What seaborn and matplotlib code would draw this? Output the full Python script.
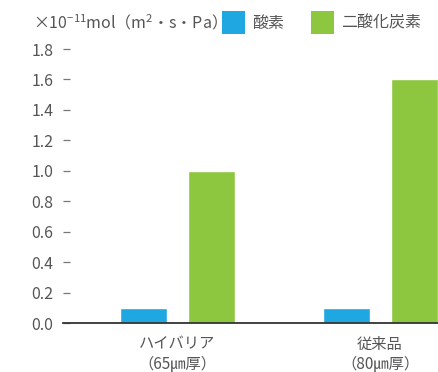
import matplotlib
matplotlib.use("Agg")
import matplotlib.pyplot as plt
from matplotlib.patches import Patch
import seaborn as sns
import pandas as pd

# Data
products = ["ハイバリア\n（65㎛厚）", "従来品\n（80㎛厚）"]
gases = ["酸素", "二酸化炭素"]
oxygen = [0.1, 0.1]
co2 = [1.0, 1.6]
y_ticks = [0.0, 0.2, 0.4, 0.6, 0.8, 1.0, 1.2, 1.4, 1.6, 1.8]
colors = ["#1ea7e1", "#8dc63f"]
unit_label = "×10$^{-11}$mol（m$^{2}$・s・Pa）"

df = pd.DataFrame({
    "product": products * 2,
    "gas": [gases[0]] * len(products) + [gases[1]] * len(products),
    "value": oxygen + co2,
})

sns.set_style("white")
plt.rcParams["font.family"] = ["Noto Sans CJK JP", "DejaVu Sans"]
plt.rcParams["mathtext.fontset"] = "custom"
plt.rcParams["mathtext.rm"] = "Noto Sans CJK JP"
plt.rcParams["mathtext.it"] = "Noto Sans CJK JP"
plt.rcParams["mathtext.bf"] = "Noto Sans CJK JP"
plt.rcParams["mathtext.default"] = "regular"
text_color = "#555555"

fig = plt.figure(figsize=(4.38, 3.72), dpi=100)
ax = fig.add_axes([63 / 438, 49 / 372, 375 / 438, 274 / 372])

sns.barplot(data=df, x="product", y="value", hue="gas", hue_order=gases,
            palette=colors, width=0.672, gap=0.31, legend=False, ax=ax,
            saturation=1)

ax.set_xlim(-0.565, 1.286)
ax.set_ylim(0, 1.8)
ax.set_yticks(y_ticks)
ax.set_yticklabels([f"{v:.1f}" for v in y_ticks])
ax.set_xlabel("")
ax.set_ylabel("")

for side in ["left", "top", "right"]:
    ax.spines[side].set_visible(False)
ax.spines["bottom"].set_color("#333333")
ax.spines["bottom"].set_linewidth(1.3)
ax.spines["bottom"].set_zorder(5)

ax.tick_params(axis="y", left=True, direction="in", length=5, width=0.9,
               color="#777777", pad=7, labelsize=11.5, labelcolor=text_color)
ax.tick_params(axis="x", bottom=False, length=0, pad=9, labelsize=11,
               labelcolor=text_color)
for lbl in ax.get_xticklabels():
    lbl.set_linespacing(1.25)

# unit label above the axis
fig.text(33 / 438, 1 - 23 / 372, unit_label, ha="left", va="center",
         fontsize=11.5, color=text_color)

# legend
handles = [Patch(facecolor=c, edgecolor="none") for c in colors]
fig.legend(handles, gases, loc="upper left", bbox_to_anchor=(222 / 438, 1 - 11 / 372),
           ncol=2, frameon=False, borderpad=0, borderaxespad=0,
           handlelength=1.44, handleheight=1.83, handletextpad=0.44,
           columnspacing=1.7, fontsize=11.5, labelcolor=text_color)

fig.savefig("out.png", dpi=100)
